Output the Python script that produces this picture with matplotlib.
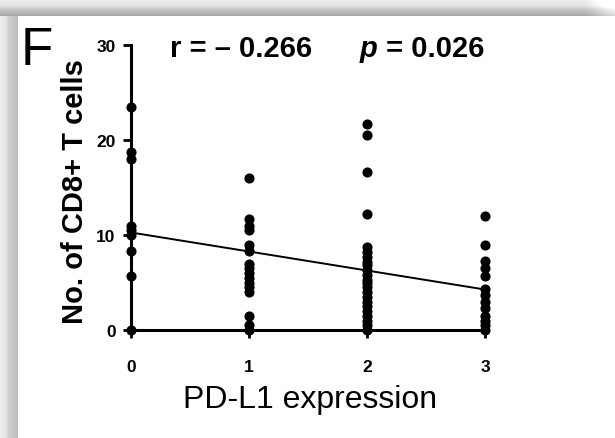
import numpy as np
import matplotlib
matplotlib.use("Agg")
import matplotlib.pyplot as plt

# PD-L1 expression score (0-3) and CD8+ T-cell counts per score group
scores = [0, 1, 2, 3]
cd8_score0 = [23.5, 18.7, 18.0, 11.0, 10.5, 10.0, 8.3, 5.7, 0.0]
cd8_score1 = [16.0, 11.7, 11.0, 10.5, 9.0, 8.3, 7.0, 6.5, 6.0, 5.5, 5.0,
              4.5, 4.0, 1.5, 0.5, 0.0]
cd8_score2 = [21.7, 20.5, 16.6, 12.2, 8.7, 8.2, 7.7, 7.2, 6.8, 6.3, 5.8,
              5.3, 5.0, 4.5, 4.0, 3.5, 3.0, 2.5, 2.0, 1.5, 1.0, 0.5, 0.0]
cd8_score3 = [12.0, 9.0, 7.3, 6.5, 5.7, 4.3, 3.7, 3.0, 2.3, 1.5, 1.0, 0.5, 0.0]
groups = [cd8_score0, cd8_score1, cd8_score2, cd8_score3]

x_ticks = [0, 1, 2, 3]
y_ticks = [0, 10, 20, 30]
r_text = "r = \u2013 0.266"
p_value = "0.026"

plt.rcParams["font.family"] = ["Liberation Sans", "DejaVu Sans"]

fig = plt.figure(figsize=(6.15, 4.39), dpi=100)
fig.patch.set_facecolor("white")

# grey frame: top band and left band with soft gradients
top_h = 17 / 439
left_w = 18 / 615
ax_left = fig.add_axes([0, 0, left_w, 1])
grad_l = np.interp(np.arange(18), [0, 6, 8, 17], [0.94, 0.89, 0.82, 0.74])
ax_left.imshow(np.tile(grad_l, (10, 1)), cmap="gray", vmin=0, vmax=1,
               aspect="auto", interpolation="bilinear")
ax_left.set_axis_off()
ax_top = fig.add_axes([0, 1 - top_h, 1, top_h])
grad_t = np.interp(np.arange(17), [0, 7, 9, 16], [0.93, 0.87, 0.79, 0.66])
band = np.tile(grad_t[:, None], (1, 615))
fade = np.clip((np.arange(615) - 585) / 30, 0, 1) * 0.2
band = np.clip(band + fade[None, :], 0, 1)
ax_top.imshow(band, cmap="gray", vmin=0, vmax=1, aspect="auto",
              interpolation="bilinear")
ax_top.set_axis_off()

ax = fig.add_axes([131 / 615, 1 - 331 / 439, (485 - 131) / 615, (331 - 46) / 439])

all_x, all_y = [], []
for s, vals in zip(scores, groups):
    xs = np.full(len(vals), s, dtype=float)
    ax.plot(xs, vals, "o", color="black", ms=7.3, mew=0, clip_on=False, zorder=3)
    all_x.extend(xs)
    all_y.extend(vals)

slope, intercept = np.polyfit(all_x, all_y, 1)
line_x = np.array([0, 3])
ax.plot(line_x, intercept + slope * line_x, color="black", lw=1.4, zorder=2)

ax.set_xlim(0, 3)
ax.set_ylim(0, 30)
ax.set_xticks(x_ticks)
ax.set_yticks(y_ticks)
for side in ("top", "right"):
    ax.spines[side].set_visible(False)
for side in ("left", "bottom"):
    ax.spines[side].set_linewidth(2.2)
ax.tick_params(axis="both", width=2.0, length=6, labelsize=12.5)
ax.tick_params(axis="x", pad=15)
ax.tick_params(axis="y", pad=5)
for lab in ax.get_xticklabels() + ax.get_yticklabels():
    lab.set_fontweight("bold")

ax.set_ylabel("No. of CD8+ T cells", fontsize=21, fontweight="bold")
ax.yaxis.set_label_coords(-0.12, 0.49)
ax.set_xlabel("PD-L1 expression", fontsize=23)
ax.xaxis.set_label_coords(0.505, -0.19)

ax.text(0.33, 29.7, r_text, fontsize=21, fontweight="bold", ha="left",
        va="center")
ax.text(1.94, 29.7, "p", fontsize=21, fontweight="bold", style="italic",
        ha="left", va="center")
ax.text(2.16, 29.7, "= " + p_value, fontsize=21, fontweight="bold",
        ha="left", va="center")

fig.text(21 / 615, 1 - 51 / 439, "F", fontsize=38, ha="left", va="center")

fig.savefig("out.png", dpi=100)
